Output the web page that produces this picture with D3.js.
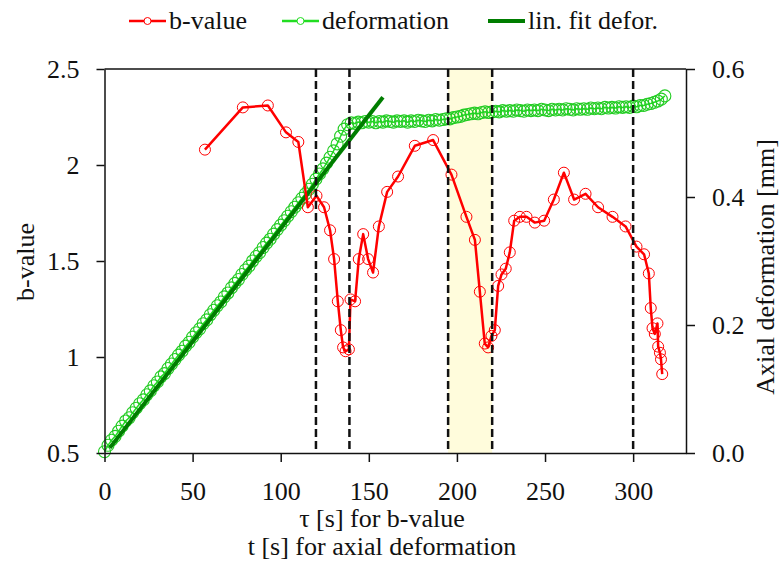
<!DOCTYPE html>
<html lang="en">
<head>
<meta charset="UTF-8">
<title>b-value and axial deformation</title>
<script src="https://d3js.org/d3.v7.min.js"></script>
<style>
  body { margin: 0; background: #fff; }
  svg text { font-family: "Liberation Serif", "Times New Roman", serif; font-size: 26px; fill: #111; }
  .axis path, .axis line { stroke: #111; stroke-width: 1.5; }
</style>
</head>
<body>
<svg id="chart" width="779" height="566"></svg>
<script>
// b-value (left axis) against tau [s]
const bTau = [57, 78.5, 92.7, 103, 110, 115.4, 120.3, 124.6, 128, 130.3, 132.4, 134.1, 135.4, 136.8, 138.7,
  139.6, 142.2, 144.3, 146.8, 149.6, 152.4, 155.7, 160.4, 166.6, 176.1, 186.5, 196.9, 205.4, 210.2, 213,
  215.8, 217.7, 219.6, 221.5, 223.4, 225.3, 227.7, 230, 232.5, 235.7, 239.5, 244.2, 249.5, 255, 260.7,
  266.5, 273, 280.1, 288.3, 295.7, 301.9, 306.2, 308.9, 310, 311, 312.3, 313.8, 314.2, 315.2, 315.8, 316.5];
const bVal = [2.08, 2.30, 2.31, 2.17, 2.12, 1.78, 1.84, 1.78, 1.66, 1.51, 1.29, 1.14, 1.05, 1.03, 1.04,
  1.30, 1.29, 1.51, 1.64, 1.51, 1.44, 1.68, 1.86, 1.94, 2.10, 2.13, 1.95, 1.73, 1.61, 1.34,
  1.07, 1.05, 1.11, 1.14, 1.37, 1.43, 1.46, 1.545, 1.71, 1.73, 1.73, 1.70, 1.71, 1.82, 1.96,
  1.82, 1.85, 1.78, 1.73, 1.68, 1.575, 1.535, 1.435, 1.255, 1.15, 1.12, 1.175, 1.054, 1.022, 0.988, 0.911];

// axial deformation [mm] (right axis) against t [s]
const defT = [0, 2, 4, 6, 8, 10, 12, 14, 16, 18, 20, 22, 24, 26, 28, 30, 32, 34, 36, 38,
  40, 42, 44, 46, 48, 50, 52, 54, 56, 58, 60, 62, 64, 66, 68, 70, 72, 74, 76, 78,
  80, 82, 84, 86, 88, 90, 92, 94, 96, 98, 100, 102, 104, 106, 108, 110, 112, 114, 116, 118,
  120, 122, 124, 126, 128, 130, 132, 134, 136, 138, 140, 142, 144, 146, 148, 150, 152, 154, 156, 158,
  160, 162, 164, 166, 168, 170, 172, 174, 176, 178, 180, 182, 184, 186, 188, 190, 192, 194, 196, 198,
  200, 202, 204, 206, 208, 210, 212, 214, 216, 218, 220, 222, 224, 226, 228, 230, 232, 234, 236, 238,
  240, 242, 244, 246, 248, 250, 252, 254, 256, 258, 260, 262, 264, 266, 268, 270, 272, 274, 276, 278,
  280, 282, 284, 286, 288, 290, 292, 294, 296, 298, 300, 302, 304, 306, 308, 310, 312, 314, 316, 318];
const defMM = [0.002, 0.012, 0.020, 0.026, 0.034, 0.042, 0.050, 0.055, 0.063, 0.070,
  0.077, 0.083, 0.091, 0.097, 0.105, 0.111, 0.119, 0.124, 0.132, 0.139,
  0.146, 0.153, 0.159, 0.167, 0.173, 0.181, 0.188, 0.194, 0.202, 0.208,
  0.216, 0.223, 0.230, 0.236, 0.244, 0.250, 0.258, 0.265, 0.271, 0.279,
  0.286, 0.292, 0.300, 0.307, 0.313, 0.321, 0.328, 0.334, 0.342, 0.349,
  0.356, 0.363, 0.370, 0.377, 0.384, 0.391, 0.398, 0.405, 0.412, 0.420,
  0.428, 0.436, 0.444, 0.453, 0.462, 0.472, 0.483, 0.495, 0.506, 0.513,
  0.516, 0.515, 0.517, 0.516, 0.518, 0.517, 0.518, 0.516, 0.518, 0.517,
  0.519, 0.518, 0.517, 0.519, 0.518, 0.519, 0.517, 0.519, 0.518, 0.520,
  0.519, 0.518, 0.520, 0.519, 0.521, 0.520, 0.521, 0.522, 0.522, 0.524,
  0.525, 0.526, 0.528, 0.529, 0.530, 0.531, 0.530, 0.532, 0.533, 0.532,
  0.533, 0.534, 0.533, 0.535, 0.534, 0.535, 0.534, 0.536, 0.535, 0.534,
  0.536, 0.535, 0.536, 0.535, 0.537, 0.536, 0.535, 0.537, 0.536, 0.537,
  0.536, 0.538, 0.537, 0.536, 0.538, 0.537, 0.538, 0.537, 0.539, 0.538,
  0.539, 0.538, 0.540, 0.539, 0.540, 0.539, 0.541, 0.540, 0.541, 0.540,
  0.542, 0.541, 0.543, 0.543, 0.545, 0.546, 0.548, 0.550, 0.553, 0.558];

// linear fit of the deformation ramp
const fitT = [3, 158];
const fitMM = [0.008, 0.556];

const xTicks = [0, 50, 100, 150, 200, 250, 300];
const leftTicks = [0.5, 1, 1.5, 2, 2.5];
const rightTicks = [0, 0.2, 0.4, 0.6];
const markerTimes = [120, 139, 195, 220, 300];
const shadeRange = [195, 220];

const svg = d3.select("#chart");
const margin = { top: 69, right: 93, bottom: 113, left: 104.5 };
const width = +svg.attr("width"), height = +svg.attr("height");
const x0 = margin.left, x1 = width - margin.right, yTop = margin.top, yBot = height - margin.bottom;

const x = d3.scaleLinear().domain([0, 330]).range([x0, x1]);
const yL = d3.scaleLinear().domain([0.5, 2.5]).range([yBot, yTop]);
const yR = d3.scaleLinear().domain([0, 0.6]).range([yBot, yTop]);

const red = "#ff0000", green = "#22dd22", greenMark = "#22cc22", darkGreen = "#007d00";

// shaded window
svg.append("rect")
  .attr("x", x(shadeRange[0])).attr("y", yTop)
  .attr("width", x(shadeRange[1]) - x(shadeRange[0]))
  .attr("height", yBot - yTop)
  .attr("fill", "#fffcdc");

// deformation
const defData = defT.map((t, i) => ({ t, v: defMM[i] }));
svg.append("path").datum(defData)
  .attr("fill", "none").attr("stroke", green).attr("stroke-width", 1.5)
  .attr("d", d3.line().x(d => x(d.t)).y(d => yR(d.v)));
svg.append("g").selectAll("circle").data(defData).join("circle")
  .attr("cx", d => x(d.t)).attr("cy", d => yR(d.v)).attr("r", 6)
  .attr("fill", "none").attr("stroke", greenMark).attr("stroke-width", 1.1);

// linear fit
const fitData = fitT.map((t, i) => ({ t, v: fitMM[i] }));
svg.append("path").datum(fitData)
  .attr("fill", "none").attr("stroke", darkGreen).attr("stroke-width", 4)
  .attr("d", d3.line().x(d => x(d.t)).y(d => yR(d.v)));

// b-value
const bData = bTau.map((t, i) => ({ t, v: bVal[i] }));
svg.append("path").datum(bData)
  .attr("fill", "none").attr("stroke", red).attr("stroke-width", 2.5)
  .attr("stroke-linejoin", "round")
  .attr("d", d3.line().x(d => x(d.t)).y(d => yL(d.v)));
svg.append("g").selectAll("circle").data(bData).join("circle")
  .attr("cx", d => x(d.t)).attr("cy", d => yL(d.v)).attr("r", 5.5)
  .attr("fill", "none").attr("stroke", red).attr("stroke-width", 1);

// dashed markers
svg.append("g").selectAll("line").data(markerTimes).join("line")
  .attr("x1", d => x(d)).attr("x2", d => x(d))
  .attr("y1", yTop).attr("y2", yBot)
  .attr("stroke", "#111").attr("stroke-width", 2.5).attr("stroke-dasharray", "8,4");

// axes
const gx = svg.append("g").attr("class", "axis")
  .attr("transform", `translate(0,${yBot})`)
  .call(d3.axisBottom(x).tickValues(xTicks).tickSize(9).tickSizeOuter(0));
gx.selectAll("text").attr("y", 47).attr("dy", null);

svg.append("g").attr("class", "axis")
  .attr("transform", `translate(${x0},0)`)
  .call(d3.axisLeft(yL).tickValues(leftTicks).tickFormat(d3.format("~g"))
    .tickSize(8).tickSizeOuter(0).tickPadding(17));

svg.append("g").attr("class", "axis")
  .attr("transform", `translate(${x1},0)`)
  .call(d3.axisRight(yR).tickValues(rightTicks).tickFormat(d3.format(".1f"))
    .tickSize(9).tickSizeOuter(0).tickPadding(17));

svg.selectAll(".axis").attr("font-size", null).attr("font-family", null);

// top border
svg.append("line").attr("x1", x0).attr("x2", x1).attr("y1", yTop).attr("y2", yTop)
  .attr("stroke", "#111").attr("stroke-width", 1.5);

// titles
svg.append("text").attr("x", 382).attr("y", 527).attr("text-anchor", "middle").text("τ [s] for b-value");
svg.append("text").attr("x", 382).attr("y", 555).attr("text-anchor", "middle").text("t [s] for axial deformation");
svg.append("text").attr("transform", "translate(34,262) rotate(-90)").attr("text-anchor", "middle").text("b-value");
svg.append("text").attr("transform", "translate(774,267) rotate(-90)").attr("text-anchor", "middle").text("Axial deformation [mm]");

// legend
const legend = [
  { label: "b-value", color: red, x: 129, marker: true, w: 2.5 },
  { label: "deformation", color: green, x: 282, marker: true, w: 2.5 },
  { label: "lin. fit defor.", color: darkGreen, x: 488, marker: false, w: 4 }
];
const lg = svg.append("g").selectAll("g").data(legend).join("g")
  .attr("transform", d => `translate(${d.x},21)`);
lg.append("line").attr("x1", 0).attr("x2", 37)
  .attr("stroke", d => d.color).attr("stroke-width", d => d.w);
lg.filter(d => d.marker).append("circle").attr("cx", 18.5).attr("r", 3.5)
  .attr("fill", "#fff").attr("stroke", d => d.color).attr("stroke-width", 1);
lg.append("text").attr("x", 40).attr("y", 8).text(d => d.label);
</script>
</body>
</html>
